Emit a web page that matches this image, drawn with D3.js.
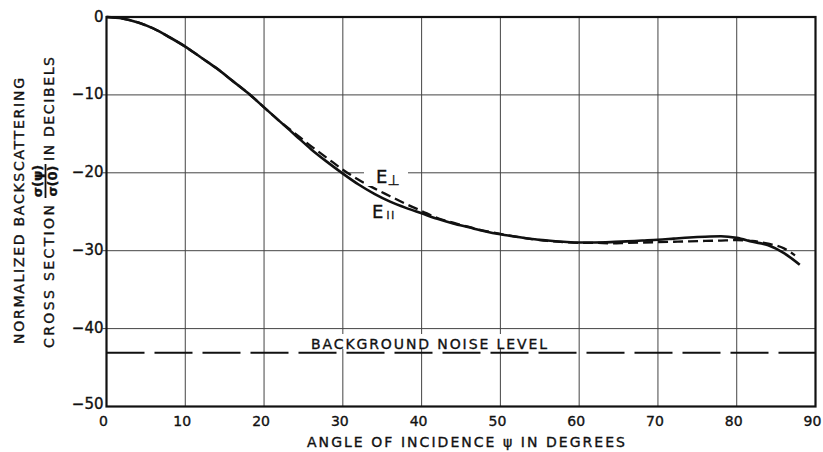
<!DOCTYPE html>
<html>
<head>
<meta charset="utf-8">
<script src="https://cdn.jsdelivr.net/npm/d3@7/dist/d3.min.js"></script>
<style>
  html, body { margin: 0; padding: 0; background: #fff; }
  svg { display: block; font-family: "DejaVu Sans", sans-serif; }
  text { stroke: #111; stroke-width: 0.35px; }
</style>
</head>
<body>
<svg id="chart" width="823" height="452"></svg>
<script>
// Angle of incidence (degrees)
const angles = [0, 2, 4, 6, 8, 10, 12, 14, 16, 18, 20, 22, 24, 26, 28, 30, 32, 34, 36, 38,
  40, 42, 44, 46, 48, 50, 52, 54, 56, 58, 60, 62, 64, 66, 68, 70, 72, 74, 76, 78,
  80, 82, 84, 86, 88];

// Normalized backscattering cross section, E parallel (dB)
const eParallel = [0, -0.2, -0.7, -1.5, -2.6, -3.8, -5.2, -6.6, -8.2, -9.8, -11.6, -13.4, -15.2, -17.0, -18.6, -20.1, -21.5, -22.7, -23.7, -24.5,
  -25.2, -25.9, -26.5, -27.0, -27.5, -27.9, -28.2, -28.5, -28.7, -28.85, -28.95, -28.95, -28.9, -28.8, -28.7, -28.6, -28.45, -28.3, -28.2, -28.15,
  -28.35, -28.85, -29.3, -30.3, -31.8];

// Normalized backscattering cross section, E perpendicular (dB)
const perpAngles = [0, 2, 4, 6, 8, 10, 12, 14, 16, 18, 20, 22, 24, 26, 28, 30, 32, 34, 36, 38,
  40, 42, 44, 46, 48, 50, 52, 54, 56, 58, 60, 62, 64, 66, 68, 70, 72, 74, 76, 78,
  80, 82, 84, 86, 87.4];
const ePerpendicular = [0, -0.2, -0.7, -1.5, -2.6, -3.8, -5.2, -6.6, -8.2, -9.8, -11.6, -13.4, -15.0, -16.6, -18.1, -19.6, -20.9, -22.0, -23.0, -24.0,
  -24.9, -25.8, -26.4, -26.95, -27.45, -27.85, -28.2, -28.5, -28.75, -28.9, -29.0, -29.0, -29.05, -29.0, -28.95, -28.9, -28.85, -28.8, -28.75, -28.7,
  -28.65, -28.75, -29.1, -29.7, -30.6];

// Background noise level (dB)
const noiseLevel = -43.1;

const xTicks = [0, 10, 20, 30, 40, 50, 60, 70, 80, 90];
const yTicks = [0, -10, -20, -30, -40, -50];

const svg = d3.select("#chart");
const ink = "#111";

const x = d3.scaleLinear().domain([0, 90]).range([106.5, 815.5]);
const y = d3.scaleLinear().domain([-50, 0]).range([406.5, 17]);

// grid
const grid = svg.append("g").attr("stroke", "#444").attr("stroke-width", 1);
grid.selectAll("line.v").data(xTicks.slice(1, -1)).join("line")
  .attr("x1", d => x(d)).attr("x2", d => x(d))
  .attr("y1", y(0)).attr("y2", y(-50));
grid.selectAll("line.h").data(yTicks.slice(1, -1)).join("line")
  .attr("x1", x(0) - 4).attr("x2", x(90))
  .attr("y1", d => y(d)).attr("y2", d => y(d));

// frame
svg.append("rect")
  .attr("x", x(0)).attr("y", y(0))
  .attr("width", x(90) - x(0)).attr("height", y(-50) - y(0))
  .attr("fill", "none").attr("stroke", ink).attr("stroke-width", 2.2);

// tick labels
svg.append("g").selectAll("text").data(xTicks).join("text")
  .attr("x", d => x(d) - 3).attr("y", 425.5)
  .attr("text-anchor", "middle").attr("font-size", 14).attr("fill", ink)
  .text(d => d);
svg.append("g").selectAll("text").data(yTicks).join("text")
  .attr("x", d => x(0) - 3).attr("y", d => y(d) + (d === -50 ? 2 : 4.5))
  .attr("text-anchor", "end").attr("font-size", 15).attr("fill", ink)
  .text(d => d === 0 ? "0" : "\u2212" + Math.abs(d));

// noise level
svg.append("line")
  .attr("x1", x(0)).attr("x2", x(90))
  .attr("y1", y(noiseLevel)).attr("y2", y(noiseLevel))
  .attr("stroke", ink).attr("stroke-width", 2)
  .attr("stroke-dasharray", "38,10");
svg.append("rect").attr("x", 309).attr("y", 334).attr("width", 241).attr("height", 15).attr("fill", "#fff");
svg.append("text")
  .attr("x", 311).attr("y", 348.5)
  .attr("font-size", 14).attr("fill", ink)
  .attr("textLength", 236).attr("lengthAdjust", "spacing")
  .text("BACKGROUND NOISE LEVEL");

// curves
const line = d3.line().curve(d3.curveMonotoneX);
svg.append("path")
  .attr("d", line(perpAngles.map((a, i) => [x(a), y(ePerpendicular[i])])))
  .attr("fill", "none").attr("stroke", ink).attr("stroke-width", 2.3)
  .attr("stroke-dasharray", "10,5");
svg.append("path")
  .attr("d", line(angles.map((a, i) => [x(a), y(eParallel[i])])))
  .attr("fill", "none").attr("stroke", ink).attr("stroke-width", 2.6);

// curve labels
svg.append("rect").attr("x", 364).attr("y", 164).attr("width", 44).attr("height", 22).attr("fill", "#fff");
const lp = svg.append("text").attr("x", 376).attr("y", 183).attr("font-size", 18).attr("fill", ink);
lp.append("tspan").text("E");
lp.append("tspan").attr("font-size", 14).attr("dx", 0).attr("dy", 2).text("\u22A5");
const lq = svg.append("text").attr("x", 372).attr("y", 218).attr("font-size", 18).attr("fill", ink);
lq.append("tspan").text("E");
lq.append("tspan").attr("font-size", 10).attr("dx", 3).attr("dy", 1).attr("letter-spacing", 2).text("II");

// x axis title
svg.append("text")
  .attr("x", 307).attr("y", 447)
  .attr("font-size", 14).attr("fill", ink)
  .attr("textLength", 318).attr("lengthAdjust", "spacing")
  .text("ANGLE OF INCIDENCE \u03C8 IN DEGREES");

// y axis title (rotated)
function vtext(bx, by, str, len, size, anchor) {
  const t = svg.append("text")
    .attr("transform", `translate(${bx},${by}) rotate(-90)`)
    .attr("font-size", size).attr("fill", ink)
    .attr("text-anchor", anchor || "start")
    .text(str);
  if (len) t.attr("textLength", len).attr("lengthAdjust", "spacing");
  return t;
}
vtext(24, 344, "NORMALIZED BACKSCATTERING", 266, 14);
vtext(54, 348, "CROSS SECTION", 143, 14);
vtext(42, 181, "\u03C3(\u03C8)", null, 13, "middle").attr("font-weight", "bold");
svg.append("line").attr("x1", 45.5).attr("x2", 45.5).attr("y1", 198).attr("y2", 164)
  .attr("stroke", ink).attr("stroke-width", 1.8);
vtext(57, 181, "\u03C3(0)", null, 13, "middle").attr("font-weight", "bold");
vtext(54, 161, "IN DECIBELS", 104, 14);
</script>
</body>
</html>
